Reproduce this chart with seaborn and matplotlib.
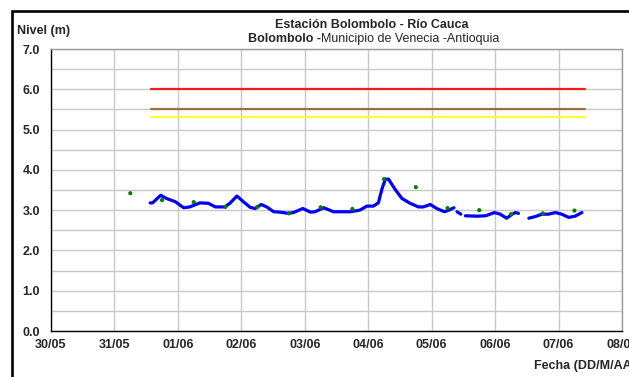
import pandas as pd
import seaborn as sns
import matplotlib.pyplot as plt
from matplotlib.patches import Rectangle
from matplotlib.ticker import MultipleLocator

# nivel continuo (sensor), cada tramo separado por huecos
nivel_hora = [
    "31/05 13:30", "31/05 14:25", "31/05 17:30", "31/05 19:40", "31/05 23:00",
    "01/06 02:10", "01/06 04:30", "01/06 08:20", "01/06 11:30", "01/06 14:10",
    "01/06 17:45", "01/06 19:40", "01/06 22:20", "02/06 00:45", "02/06 03:20",
    "02/06 05:15", "02/06 07:30", "02/06 09:35", "02/06 12:15", "02/06 14:40",
    "02/06 17:45", "02/06 19:40", "02/06 23:15", "03/06 02:10", "03/06 03:50",
    "03/06 07:10", "03/06 10:50", "03/06 17:15", "03/06 20:50", "03/06 23:30",
    "04/06 01:55", "04/06 03:50", "04/06 05:15", "04/06 06:30", "04/06 07:40",
    "04/06 10:20", "04/06 12:45", "04/06 15:50", "04/06 19:00", "04/06 20:50",
    "04/06 23:30", "05/06 01:55", "05/06 04:50", "05/06 06:30", "05/06 08:25",
    "05/06 09:35", "05/06 11:00",
    "05/06 12:45", "05/06 17:00", "05/06 20:25", "05/06 23:45", "06/06 01:55",
    "06/06 04:20", "06/06 06:30", "06/06 07:40", "06/06 08:50",
    "06/06 12:45", "06/06 15:10", "06/06 17:45", "06/06 20:10", "06/06 22:50",
    "07/06 01:10", "07/06 03:50", "07/06 06:15", "07/06 08:50",
]
nivel_valor = [
    3.18, 3.18, 3.37, 3.29, 3.21,
    3.06, 3.08, 3.18, 3.17, 3.08,
    3.08, 3.17, 3.35, 3.21, 3.07,
    3.04, 3.14, 3.08, 2.96, 2.95,
    2.92, 2.94, 3.04, 2.95, 2.96,
    3.06, 2.96, 2.96, 3.00, 3.10,
    3.10, 3.18, 3.54, 3.77, 3.77,
    3.50, 3.29, 3.17, 3.08, 3.08,
    3.14, 3.04, 2.96, 3.00, 3.06,
    2.96, 2.90,
    2.86, 2.85, 2.86, 2.94, 2.90,
    2.80, 2.90, 2.94, 2.92,
    2.80, 2.84, 2.90, 2.90, 2.94,
    2.90, 2.82, 2.85, 2.94,
]
nivel_tramo = [1] * 45 + [2] * 2 + [3] * 9 + [4] * 9

# lecturas de mira
mira_hora = [
    "31/05 06:00", "31/05 18:00", "01/06 06:00", "01/06 18:00", "02/06 06:00",
    "02/06 18:00", "03/06 06:00", "03/06 18:00", "04/06 06:00", "04/06 18:00",
    "05/06 06:00", "05/06 18:00", "06/06 06:00", "06/06 18:00", "07/06 06:00",
]
mira_valor = [3.42, 3.25, 3.20, 3.08, 3.08, 2.92, 3.07, 3.03, 3.77, 3.57,
              3.05, 3.00, 2.90, 2.92, 2.99]

# umbrales de alerta
umbral_inicio = "31/05 14:00"
umbral_fin = "07/06 10:00"
umbral_valor = [6.0, 5.5, 5.3]
umbral_color = ["#ff1a1a", "#a0703c", "#ffff33"]

fechas_ticks = ["30/05", "31/05", "01/06", "02/06", "03/06", "04/06", "05/06",
                "06/06", "07/06", "08/06"]


def a_fecha(lista):
    return pd.to_datetime(["2011/" + s[3:5] + "/" + s[0:2] + " " + s[6:] for s in lista],
                          format="%Y/%m/%d %H:%M")


df_nivel = pd.DataFrame({"fecha": a_fecha(nivel_hora), "nivel": nivel_valor, "tramo": nivel_tramo})
df_mira = pd.DataFrame({"fecha": a_fecha(mira_hora), "nivel": mira_valor})
df_umbral = pd.DataFrame({
    "fecha": list(a_fecha([umbral_inicio, umbral_fin])) * 3,
    "nivel": [v for v in umbral_valor for _ in range(2)],
    "umbral": [str(v) for v in umbral_valor for _ in range(2)],
})

sns.set_style("white")
plt.rcParams["font.family"] = ["Liberation Sans", "DejaVu Sans"]

fig = plt.figure(figsize=(6.29, 3.77), dpi=100)
ax = fig.add_axes([51 / 629, 46 / 377, 571 / 629, 282 / 377])

sns.lineplot(data=df_umbral, x="fecha", y="nivel", hue="umbral",
             palette=dict(zip([str(v) for v in umbral_valor], umbral_color)),
             hue_order=[str(v) for v in umbral_valor], lw=1.6, legend=False, ax=ax)
sns.lineplot(data=df_nivel, x="fecha", y="nivel", units="tramo", estimator=None,
             color="#0000ff", lw=2.3, ax=ax)
sns.scatterplot(data=df_mira, x="fecha", y="nivel", color="#008000", s=9,
                edgecolor="none", zorder=5, ax=ax)

x0 = a_fecha([fechas_ticks[0] + " 00:00"])[0]
ticks = [x0 + pd.Timedelta(days=i) for i in range(len(fechas_ticks))]
ax.set_xlim(ticks[0], ticks[-1])
ax.set_xticks(ticks)
ax.set_xticklabels(fechas_ticks)
ax.set_ylim(0, 7)
ax.yaxis.set_major_locator(MultipleLocator(1.0))
ax.yaxis.set_minor_locator(MultipleLocator(0.5))
ax.yaxis.set_major_formatter(plt.FormatStrFormatter("%.1f"))
ax.grid(True, which="major", color="#c8c8c8", lw=1.0)
ax.grid(True, which="minor", axis="y", color="#c8c8c8", lw=1.0)
ax.set_axisbelow(True)
ax.tick_params(axis="x", which="major", length=3, width=1, color="black", labelsize=9, pad=3)
ax.tick_params(axis="y", which="major", length=3, width=1, color="black", labelsize=9, pad=5)
ax.tick_params(axis="y", which="minor", length=0)
for lab in ax.get_xticklabels() + ax.get_yticklabels():
    lab.set_fontweight("bold")
ax.set_xlabel("")
ax.set_ylabel("")
for s in ["left", "bottom"]:
    ax.spines[s].set_color("black")
    ax.spines[s].set_linewidth(1.0)
for s in ["top", "right"]:
    ax.spines[s].set_color("#9a9a9a")
    ax.spines[s].set_linewidth(1.0)

fig.add_artist(Rectangle((11.5 / 629, -0.1), 1.0, (377 - 10.5) / 377 + 0.1, fill=False,
                         lw=1.9, edgecolor="black", transform=fig.transFigure))

fig.text(372 / 629, 1 - 25 / 377, "Estación Bolombolo - Río Cauca", ha="center", va="center",
         fontsize=9, fontweight="bold")
t1 = fig.text(248 / 629, 1 - 39 / 377, "Bolombolo -", ha="left", va="center", fontsize=9, fontweight="bold")
r = fig.canvas.get_renderer()
bb = t1.get_window_extent(renderer=r)
fig.text(bb.x1 / 629 + 0.5 / 629, 1 - 39 / 377, "Municipio de Venecia -Antioquia", ha="left",
         va="center", fontsize=9)
fig.text(17 / 629, 1 - 31 / 377, "Nivel (m)", ha="left", va="center", fontsize=9, fontweight="bold")
fig.text(534 / 629, 1 - 366 / 377, "Fecha (DD/M/AA)", ha="left", va="center", fontsize=9, fontweight="bold")

fig.savefig("out.png", dpi=100)
